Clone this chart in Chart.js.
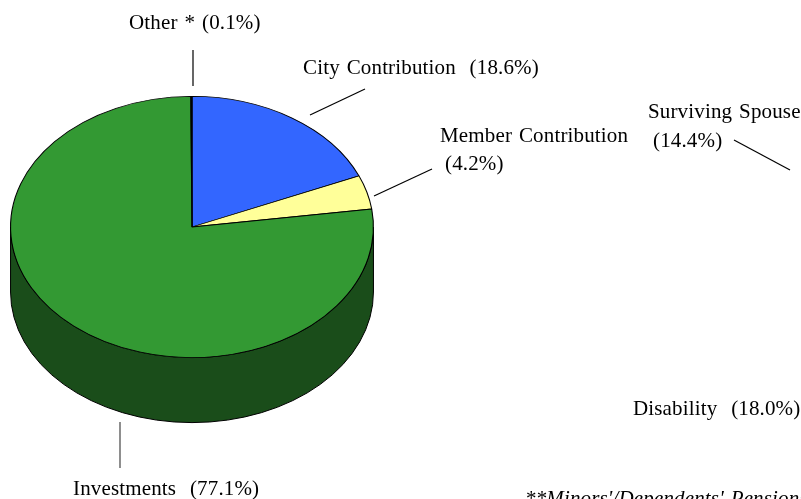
<!DOCTYPE html>
<html>
<head>
<meta charset="utf-8">
<title>Pension chart</title>
<style>html,body{margin:0;padding:0;background:#fff;overflow:hidden}canvas{display:block}</style>
<script src="https://cdn.jsdelivr.net/npm/chart.js@4"></script>
</head>
<body>
<canvas id="c" width="801" height="499"></canvas>
<script>
// ---- data ----
const categories = ["City Contribution", "Member Contribution", "Investments", "Other *"];
const shares = [18.6, 4.2, 77.1, 0.1];
const sideLabels = ["Surviving Spouse", "(14.4%)", "Disability  (18.0%)", "**Minors'/Dependents' Pensions"];
const pieLabels = ["City Contribution  (18.6%)", "Member Contribution", "(4.2%)", "Investments  (77.1%)", "Other * (0.1%)"];

// ---- styles ----
const topColors = ["#3366FF", "#FFFF99", "#339933", "#339933"];
const wallColors = ["#1A4D80", "#80804D", "#1A4D1A", "#1A4D1A"];
const SQUASH = 131 / 182, DEPTH = 65, FONT = '"Liberation Serif", serif';

const texts = [
  [pieLabels[4], 129, 29, 0], [pieLabels[0], 303, 74, 0],
  [pieLabels[1], 440, 142, 0], [pieLabels[2], 445, 170, 0],
  [sideLabels[0], 648, 118, 0], [sideLabels[1], 653, 147, 0],
  [sideLabels[2], 633, 415, 0], [pieLabels[3], 73, 495, 0],
  [sideLabels[3], 525, 505, 1]
];
const leaders = [
  [193, 50, 193, 86, "#000"], [310, 115, 365, 89, "#000"],
  [374, 196, 432, 169, "#000"], [734, 140, 790, 170, "#000"],
  [120, 422, 120, 468, "#444"]
];

const tilt = {
  id: "tilt",
  beforeDatasetsDraw(chart) {
    const ctx = chart.ctx, arcs = chart.getDatasetMeta(0).data;
    // side wall: the part of each arc that faces the viewer
    arcs.forEach((a, i) => {
      const s = Math.max(a.startAngle, 0), e = Math.min(a.endAngle, Math.PI);
      if (e <= s) return;
      const ry = a.outerRadius * SQUASH;
      ctx.save();
      ctx.beginPath();
      ctx.ellipse(a.x, a.y, a.outerRadius, ry, 0, s, e);
      ctx.ellipse(a.x, a.y + DEPTH, a.outerRadius, ry, 0, e, s, true);
      ctx.closePath();
      ctx.fillStyle = wallColors[i];
      ctx.fill();
      ctx.strokeStyle = "#000";
      ctx.lineWidth = 1;
      ctx.stroke();
      ctx.restore();
    });
    const a0 = arcs[0];
    ctx.save();
    ctx.translate(a0.x, a0.y);
    ctx.scale(1, SQUASH);
    ctx.translate(-a0.x, -a0.y);
  },
  afterDatasetsDraw(chart) {
    const ctx = chart.ctx;
    ctx.restore();
    ctx.save();
    ctx.lineWidth = 1.2;
    leaders.forEach(l => {
      ctx.strokeStyle = l[4];
      ctx.beginPath(); ctx.moveTo(l[0], l[1]); ctx.lineTo(l[2], l[3]); ctx.stroke();
    });
    ctx.fillStyle = "#000";
    ctx.textBaseline = "alphabetic";
    ctx.textAlign = "left";
    ctx.letterSpacing = "0.15px";
    ctx.wordSpacing = "1.5px";
    texts.forEach(t => {
      ctx.font = (t[3] ? "italic " : "") + "21px " + FONT;
      ctx.fillText(t[0], t[1], t[2]);
    });
    ctx.restore();
  }
};

new Chart(document.getElementById("c"), {
  type: "pie",
  data: {
    labels: categories,
    datasets: [{
      data: shares,
      backgroundColor: topColors,
      borderColor: "#000",
      borderWidth: 1.1,
      clip: false
    }]
  },
  options: {
    responsive: false,
    animation: false,
    layout: { padding: { left: 10, right: 427, top: 45, bottom: 90 } },
    plugins: { legend: { display: false }, tooltip: { enabled: false } }
  },
  plugins: [tilt]
});
</script>
</body>
</html>
